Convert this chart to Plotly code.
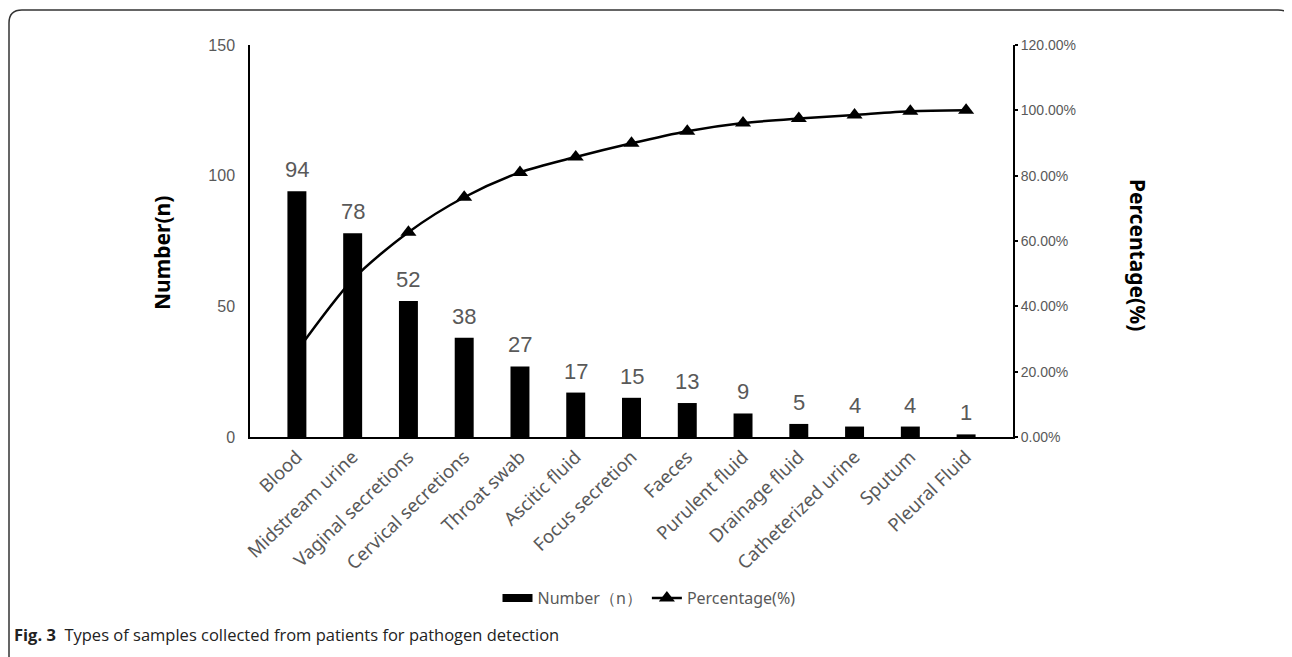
import plotly.graph_objects as go

categories = ["Blood", "Midstream urine", "Vaginal secretions", "Cervical secretions",
              "Throat swab", "Ascitic fluid", "Focus secretion", "Faeces",
              "Purulent fluid", "Drainage fluid", "Catheterized urine", "Sputum",
              "Pleural Fluid"]
counts = [94, 78, 52, 38, 27, 17, 15, 13, 9, 5, 4, 4, 1]
cum_pct = [26.3, 48.2, 62.7, 73.4, 81.0, 85.7, 89.9, 93.6, 96.1, 97.5, 98.6, 99.7, 100.0]

left_ticks = [0, 50, 100, 150]
right_ticks = [0, 20, 40, 60, 80, 100, 120]
right_ticktext = ["0.00%", "20.00%", "40.00%", "60.00%", "80.00%", "100.00%", "120.00%"]

GRAY = "#595959"
FONT = "Noto Sans"
NUMFONT = "Liberation Sans"

OFF = 8  # page body margin
W, H = 1292 - OFF, 657 - OFF
L, R, T, B = 250, 1013, 45, 437  # target screen pixels

def px(x):
    return (x - L) / (R - L)

def py(y):
    return (B - y) / (B - T)

fig = go.Figure()
fig.add_trace(go.Bar(
    x=categories, y=counts, name="Number（n）", showlegend=False,
    marker=dict(color="black", line=dict(width=0)),
))
# legend entry for the bars (wide rectangle)
fig.add_trace(go.Scatter(
    x=[None], y=[None], name="Number（n）", mode="lines",
    line=dict(color="black", width=8),
))
fig.add_trace(go.Scatter(
    x=categories, y=cum_pct, name="Percentage(%)", yaxis="y2",
    mode="lines+markers", line=dict(color="black", width=2.5, shape="spline", smoothing=0.8),
    marker=dict(symbol="triangle-up", size=14, color="black"),
))

for c, v in zip(categories, counts):
    fig.add_annotation(x=c, y=v, xref="x", yref="y", text=str(v), showarrow=False,
                       yanchor="bottom", yshift=7,
                       font=dict(size=22, color=GRAY, family=NUMFONT))

fig.update_layout(
    width=W, height=H,
    margin=dict(l=L - OFF, r=1292 - R, t=T - OFF, b=657 - B, autoexpand=False),
    paper_bgcolor="white", plot_bgcolor="white",
    bargap=0.66,
    showlegend=True,
    legend=dict(orientation="h", x=px(649), xanchor="center", y=py(598), yanchor="middle",
                font=dict(size=16, color=GRAY, family=FONT), itemwidth=30,
                tracegroupgap=0),
    xaxis=dict(tickangle=-44, tickfont=dict(size=18.5, color=GRAY, family=FONT),
               showline=True, linecolor="black", linewidth=2, ticks="",
               showgrid=False, zeroline=False),
    yaxis=dict(range=[0, 150], tickvals=left_ticks, tickfont=dict(size=16, color=GRAY, family=NUMFONT),
               showline=True, linecolor="black", linewidth=1.5, ticks="",
               ticklabelstandoff=10, showgrid=False, zeroline=False),
    yaxis2=dict(range=[0, 120], tickvals=right_ticks, ticktext=right_ticktext, overlaying="y",
                side="right", tickfont=dict(size=14, color=GRAY, family=NUMFONT),
                showline=True, linecolor="black", linewidth=2, ticks="outside", ticklen=3,
                tickcolor="black", tickwidth=2, showgrid=False, zeroline=False),
)

fig.add_annotation(x=px(162), y=py(253), xref="paper", yref="paper", xanchor="center", yanchor="middle",
                   text="<b>Number(n)</b>", textangle=-90, showarrow=False,
                   font=dict(size=21, color="black", family=FONT))
fig.add_annotation(x=px(1138), y=py(255), xref="paper", yref="paper", xanchor="center", yanchor="middle",
                   text="<b>Percentage(%)</b>", textangle=90, showarrow=False,
                   font=dict(size=21, color="black", family=FONT))
fig.add_annotation(x=px(12), y=py(634), xref="paper", yref="paper", xanchor="left", yanchor="middle",
                   text="<b>Fig. 3</b>  Types of samples collected from patients for pathogen detection",
                   showarrow=False, font=dict(size=16.5, color="#222", family="Open Sans"))

# frame
fig.add_shape(type="path", xref="paper", yref="paper",
              path=f"M {px(1290)},{py(16)} Q {px(1288)},{py(10)} {px(1278)},{py(10)} L {px(22)},{py(10)} "
                   f"Q {px(9)},{py(10)} {px(9)},{py(23)} L {px(9)},{py(657)}",
              line=dict(color="#333", width=1.5))

fig.write_html("out.html")
